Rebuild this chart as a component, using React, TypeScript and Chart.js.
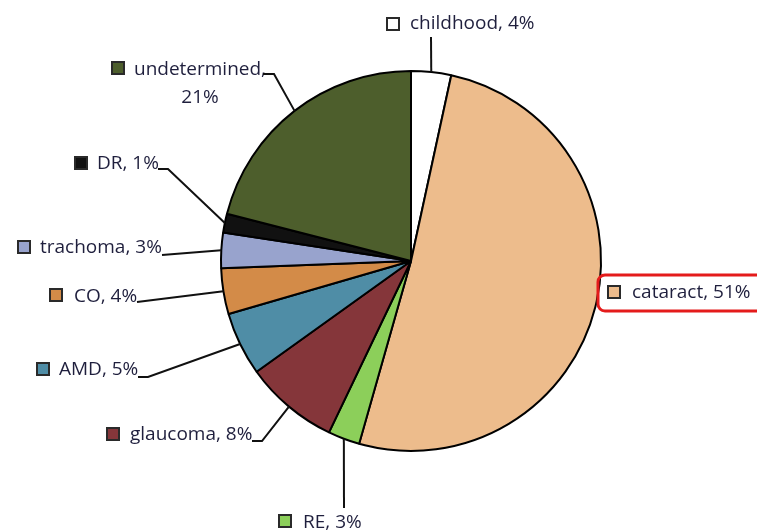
import React, { useEffect, useRef } from "react";
import { Chart, registerables } from "chart.js";

Chart.register(...registerables);

const categories = ["childhood", "cataract", "RE", "glaucoma", "AMD", "CO", "trachoma", "DR", "undetermined"];
const values = [3.4, 51, 2.7, 8, 5.4, 3.9, 3, 1.6, 21];
const percentLabels = ["4%", "51%", "3%", "8%", "5%", "4%", "3%", "1%", "21%"];
const colors = ["#ffffff", "#EDBC8C", "#8CCF5A", "#85363A", "#4F8DA6", "#D38B48", "#98A3CD", "#111111", "#4D5E2C"];

// Label layout (pixels): legend-box top-left, text start/middle, leader path from text end toward slice
type Layout = {
  box: [number, number];
  text: [number, number];
  path: [number, number][] | null;
  wrap?: boolean;
  highlight?: boolean;
};
const labelLayout: Layout[] = [
  { box: [387, 18], text: [410, 24], path: [[431, 37]] },
  { box: [608, 286], text: [632, 293], path: null, highlight: true },
  { box: [279, 515], text: [303, 523], path: [[344, 508]] },
  { box: [107, 428], text: [130, 435], path: [[252, 441], [262, 441]] },
  { box: [37, 363], text: [59, 370], path: [[138, 377], [148, 377]] },
  { box: [50, 289], text: [74, 297], path: [[137, 302]] },
  { box: [18, 241], text: [40, 248], path: [[162, 255]] },
  { box: [75, 157], text: [97, 164], path: [[158, 169], [168, 169]] },
  { box: [112, 62], text: [200, 70], path: [[263, 74], [274, 74]], wrap: true },
];

const FONT = '19px "Open Sans"';
const TEXT_COLOR = "#1f1f3d";

const labelPlugin = {
  id: "pieLabels",
  afterDraw(chart: any) {
    const ctx = chart.ctx as CanvasRenderingContext2D;
    const meta = chart.getDatasetMeta(0);
    ctx.save();
    ctx.font = FONT;
    ctx.textBaseline = "middle";
    meta.data.forEach((arc: any, i: number) => {
      const lay = labelLayout[i];
      const { x, y, startAngle, endAngle, outerRadius } = arc.getProps(
        ["x", "y", "startAngle", "endAngle", "outerRadius"],
        true
      );
      const mid = (startAngle + endAngle) / 2;
      const ax = x + Math.cos(mid) * outerRadius;
      const ay = y + Math.sin(mid) * outerRadius;

      if (lay.highlight) {
        ctx.strokeStyle = "#e41b1b";
        ctx.lineWidth = 3;
        ctx.beginPath();
        (ctx as any).roundRect(598, 275, 180, 36, 7);
        ctx.stroke();
      }

      // legend box
      ctx.fillStyle = colors[i];
      ctx.fillRect(lay.box[0], lay.box[1], 12, 12);
      ctx.strokeStyle = "#2a2a2a";
      ctx.lineWidth = 2;
      ctx.strokeRect(lay.box[0], lay.box[1], 12, 12);

      // text
      ctx.fillStyle = TEXT_COLOR;
      if (lay.wrap) {
        ctx.textAlign = "center";
        ctx.fillText(categories[i] + ",", lay.text[0], lay.text[1]);
        ctx.fillText(percentLabels[i], lay.text[0], lay.text[1] + 28);
      } else {
        ctx.textAlign = "left";
        ctx.fillText(categories[i] + ", " + percentLabels[i], lay.text[0], lay.text[1]);
      }

      // leader line
      if (lay.path) {
        ctx.strokeStyle = "#111";
        ctx.lineWidth = 2;
        ctx.beginPath();
        ctx.moveTo(lay.path[0][0], lay.path[0][1]);
        for (let k = 1; k < lay.path.length; k++) ctx.lineTo(lay.path[k][0], lay.path[k][1]);
        ctx.lineTo(ax, ay);
        ctx.stroke();
      }
    });
    ctx.restore();
  },
};

export default function App() {
  const ref = useRef<HTMLCanvasElement | null>(null);
  useEffect(() => {
    document.body.style.margin = "0";
    if (!ref.current) return;
    const chart = new Chart(ref.current, {
      type: "pie",
      data: {
        labels: categories,
        datasets: [
          {
            data: values,
            backgroundColor: colors,
            borderColor: "#000",
            borderWidth: 2,
            hoverOffset: 0,
          },
        ],
      },
      options: {
        animation: false,
        responsive: true,
        maintainAspectRatio: false,
        layout: { padding: { left: 220, right: 155, top: 70, bottom: 79 } },
        plugins: { legend: { display: false }, tooltip: { enabled: false } },
        events: [],
      },
      plugins: [labelPlugin],
    });
    return () => chart.destroy();
  }, []);
  return (
    <div style={{ width: 757, height: 531, position: "relative", background: "#fff" }}>
      <canvas ref={ref} />
    </div>
  );
}
